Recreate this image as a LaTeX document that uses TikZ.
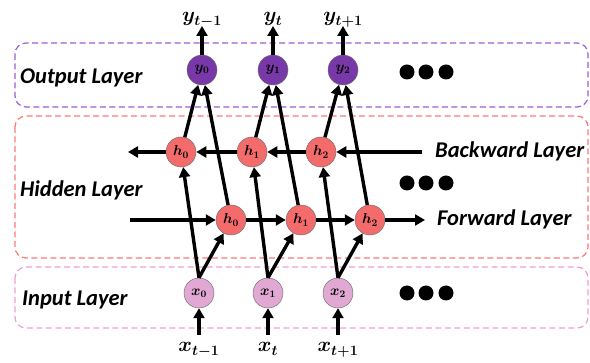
\documentclass[tikz,border=0pt]{standalone}
\usepackage{fontspec}
\usepackage{amsmath}
\usetikzlibrary{arrows.meta}
\newfontfamily\layerfont{Carlito}
\definecolor{outfill}{HTML}{7838A8}
\definecolor{outline}{HTML}{9C5CD2}
\definecolor{hidfill}{HTML}{F46B6B}
\definecolor{hidline}{HTML}{FF7878}
\definecolor{infill}{HTML}{E2A8D4}
\definecolor{inline}{HTML}{F29CD2}
\begin{document}
\begin{tikzpicture}[x=1pt,y=-1pt,
	arr/.style={line width=3.4pt,-{Triangle[length=10pt,width=11pt]}},
	unit/.style={circle,fill=#1,draw=black!55,line width=0.5pt,minimum size=30pt,inner sep=0pt,font=\fontsize{14}{15}\selectfont\boldmath},
	layerbox/.style={draw=#1,line width=1.2pt,dash pattern=on 6pt off 3.5pt,rounded corners=11pt},
	layer/.style={anchor=west,inner sep=0pt,font=\layerfont\bfseries\itshape\fontsize{22.5}{26}\selectfont},
	seq/.style={inner sep=0pt,font=\fontsize{21}{25}\selectfont\boldmath}]
	\useasboundingbox (0,0) rectangle (590,363);
	\draw[layerbox=outline] (15,43) rectangle (588,107);
	\draw[layerbox=hidline] (15,116) rectangle (588,258);
	\draw[layerbox=inline] (15,267) rectangle (588,328);
	\node[layer] (outlab) at (20,78) {Output Layer};
	\node[layer] (hidlab) at (20,190) {Hidden Layer};
	\node[layer] (inlab) at (22,300) {Input Layer};
	\node[layer] (backlab) at (435,151) {Backward Layer};
	\node[layer] (forlab) at (437,219) {Forward Layer};
	\foreach \i/\xo/\xb/\xf/\xi/\t in {0/202/181/231/199/t-1,1/273/252/301/268/t,2/343/321/370/338/t+1}{
		\node[unit=outfill] (y\i) at (\xo,70) {$y_\i$};
		\node[unit=hidfill] (b\i) at (\xb,152) {$h_\i$};
		\node[unit=hidfill] (f\i) at (\xf,220) {$h_\i$};
		\node[unit=infill] (x\i) at (\xi,293) {$x_\i$};
		\node[seq,anchor=base] (ylab\i) at (\xo,22) {$y_{\t}$};
		\node[seq,anchor=base] (xlab\i) at (\xi,352) {$x_{\t}$};
		\coordinate (ytip\i) at (\xo,26);
		\coordinate (xtail\i) at (\xi,335);
		\draw[arr] (y\i) -- (ytip\i);
		\draw[arr] (xtail\i) -- (x\i);
		\draw[arr] (x\i.north) -- (b\i);
		\draw[arr] (x\i.north) -- (f\i);
		\draw[arr] (b\i) -- (y\i);
		\draw[arr] (f\i) -- (y\i);
	}
	\coordinate (bin) at (422,152);
	\coordinate (bout) at (128,152);
	\coordinate (fin) at (130,220);
	\coordinate (fout) at (425,220);
	\draw[arr] (bin) -- (b2);
	\draw[arr] (b2) -- (b1);
	\draw[arr] (b1) -- (b0);
	\draw[arr] (b0) -- (bout);
	\draw[arr] (fin) -- (f0);
	\draw[arr] (f0) -- (f1);
	\draw[arr] (f1) -- (f2);
	\draw[arr] (f2) -- (fout);
	\foreach \yy in {72,183,293}
		\foreach \xx in {407,426,446}
			\fill (\xx,\yy) circle (7.5pt);
\end{tikzpicture}
\end{document}
